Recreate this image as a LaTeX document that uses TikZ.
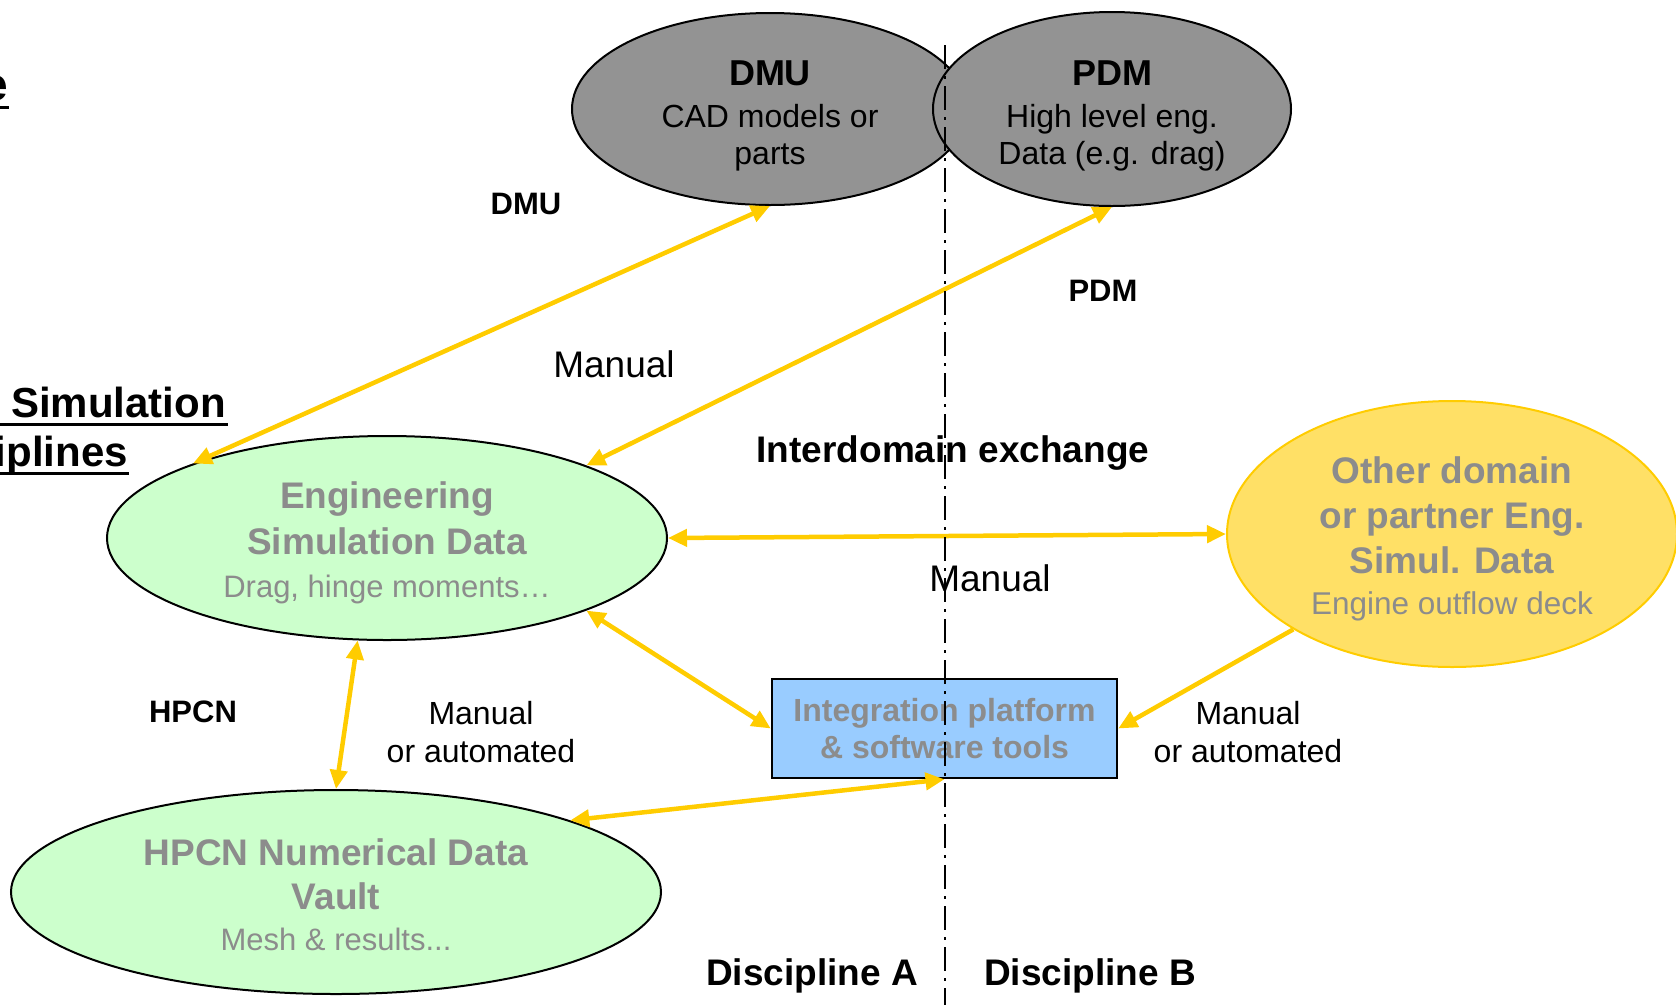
\documentclass[tikz,border=0pt]{standalone}
\usepackage{fontspec}
\setmainfont{Liberation Sans}
\usetikzlibrary{shapes.geometric,arrows.meta}
\definecolor{ygold}{HTML}{FFCC00}
\definecolor{yfill}{HTML}{FFE066}
\definecolor{gfill}{HTML}{CCFFCC}
\definecolor{dfill}{HTML}{939393}
\definecolor{bfill}{HTML}{99CCFF}
\definecolor{tgray}{HTML}{8C8C8C}
\begin{document}
\begin{tikzpicture}[x=1pt,y=-1pt,
  ell/.style={ellipse, draw=black, line width=2pt, inner sep=0pt},
  intext/.style={inner sep=0pt, align=center},
  link/.style={draw=ygold, line width=4.5pt, {Triangle[length=19pt,width=17pt]}-{Triangle[length=19pt,width=17pt]}},
  onelink/.style={draw=ygold, line width=4.5pt, -{Triangle[length=19pt,width=17pt]}},
  lblb/.style={inner sep=0pt, font=\fontsize{31}{37}\selectfont\bfseries},
  lblr/.style={inner sep=0pt, font=\fontsize{32}{38}\selectfont, align=center},
  lblbig/.style={inner sep=0pt, font=\fontsize{37}{44}\selectfont\bfseries},
  lblman/.style={inner sep=0pt, font=\fontsize{37}{44}\selectfont},
  titl/.style={inner sep=0pt, font=\fontsize{42}{48}\selectfont\bfseries},
  uline/.style={line width=3pt},
  divline/.style={line width=2.5pt, dash pattern=on 24pt off 7pt on 3pt off 7pt}
]
\useasboundingbox (0,0) rectangle (1676,1005);
\clip (0,0) rectangle (1676,1005);

% clipped titles at left
\node[anchor=base east, inner sep=0pt, font=\fontsize{46}{50}\selectfont\bfseries] (ttl) at (8,100) {e};
\draw[uline] (0,107) -- (9,107);
\node[titl, anchor=base west] (simA) at (11,417) {Simulation};
\draw[uline] (0,424) -- (228,424);
\node[titl, anchor=base east] (simB) at (128,466) {iplines};
\draw[uline] (0,473) -- (129,473);

% top ellipses
\node[ell, fill=dfill, minimum width=396pt, minimum height=192pt] (dmu) at (770,109) {};
\node[intext, font=\fontsize{32}{37}\selectfont] (dmutxt) at ([yshift=-7pt]dmu.center)
  {{\fontsize{36}{40}\selectfont\bfseries DMU}\\[5pt]CAD models or\\parts};
\node[ell, fill=dfill, minimum width=358pt, minimum height=194pt] (pdm) at (1112,109) {};
\node[intext, font=\fontsize{32}{37}\selectfont] (pdmtxt) at ([yshift=-7pt]pdm.center)
  {{\fontsize{36}{40}\selectfont\bfseries PDM}\\[5pt]High level eng.\\Data (e.g. drag)};

% engineering simulation data
\node[ell, fill=gfill, minimum width=560pt, minimum height=204pt] (esd) at (387,538) {};
\node[intext, text=tgray, font=\fontsize{37}{46}\selectfont\bfseries] (esdtxt) at ([yshift=-5pt]esd.center)
  {Engineering\\Simulation Data\\[-3pt]{\fontsize{31}{37}\selectfont\mdseries Drag, hinge moments…}};

% HPCN vault
\node[ell, fill=gfill, minimum width=650pt, minimum height=204pt] (hpcn) at (336,892) {};
\node[intext, text=tgray, font=\fontsize{37}{44}\selectfont\bfseries] (hpcntxt) at ([yshift=-3pt]hpcn.center)
  {HPCN Numerical Data\\Vault\\[-3pt]{\fontsize{31}{37}\selectfont\mdseries Mesh \& results...}};

% other domain
\node[ell, draw=ygold, fill=yfill, minimum width=450pt, minimum height=266pt] (other) at (1452,534) {};
\node[intext, text=tgray, font=\fontsize{37}{45}\selectfont\bfseries] (othertxt) at ([yshift=-5pt]other.center)
  {Other domain\\or partner Eng.\\Simul. Data\\[-4pt]{\fontsize{31.5}{37}\selectfont\mdseries Engine outflow deck}};

% integration box
\node[draw=black, line width=2.5pt, fill=bfill, text=tgray, inner sep=0pt,
      minimum width=345pt, minimum height=99pt, align=center,
      font=\fontsize{32}{37}\selectfont\bfseries] (box) at (944.5,728.5)
  {Integration platform\\\& software tools};

% connectors
\draw[link] (esd.159) -- (dmu.south);
\draw[link] (esd.20) -- (pdm.south);
\draw[link] (esd.east) -- (other.west);
\draw[link] (esd.-20) -- (box.west);
\draw[link] (esd.-106) -- (hpcn.north);
\draw[link] (hpcn.17) -- (box.south);
\draw[onelink] (other.-149) -- (box.east);

% labels
\node[lblb] (ldmu) at (526,204) {DMU};
\node[lblb] (lpdm) at (1103,291) {PDM};
\node[lblman] (lman1) at (614,364) {Manual};
\node[lblbig] (linter) at (953,453) {Interdomain exchange};
\node[lblman] (lman2) at (990,578) {Manual};
\node[lblb] (lhpcn) at (193,712) {HPCN};
\node[lblr] (lman3) at (481,732) {Manual\\or automated};
\node[lblr] (lman4) at (1248,732) {Manual\\or automated};
\node[lblbig] (lda) at (812,976) {Discipline A};
\node[lblbig] (ldb) at (1090,976) {Discipline B};

% divider
\coordinate (divtop) at (945,45);
\coordinate (divbot) at (945,1005);
\draw[divline] (divtop) -- (divbot);
\end{tikzpicture}
\end{document}
